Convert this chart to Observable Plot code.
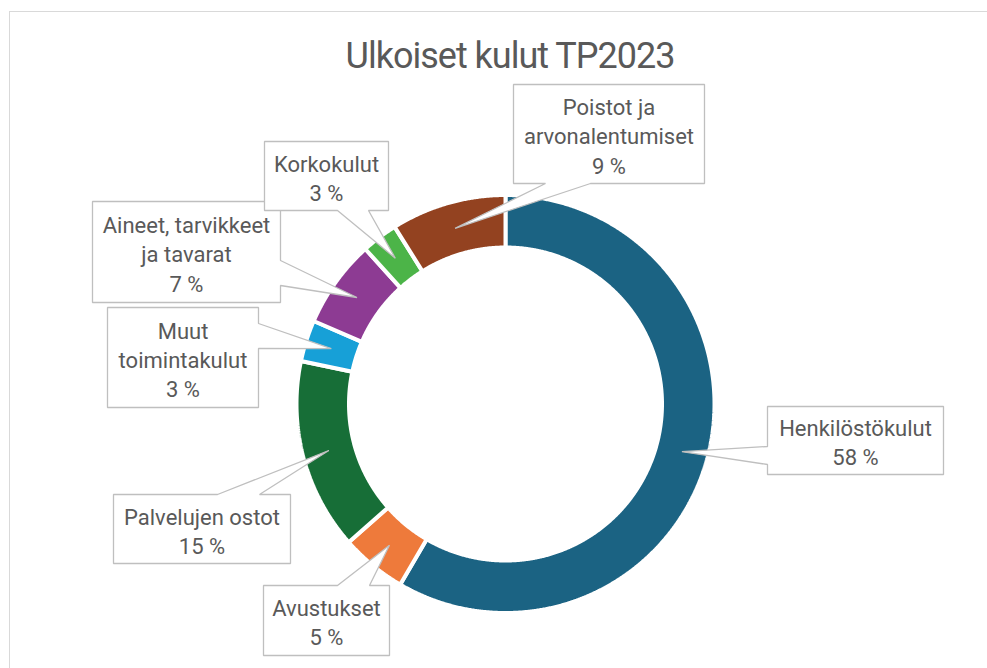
<!DOCTYPE html>
<html>
<head>
<meta charset="utf-8">
<script src="https://cdn.jsdelivr.net/npm/d3@7"></script>
<script src="https://cdn.jsdelivr.net/npm/@observablehq/plot@0.6"></script>
<style>
  html, body { margin: 0; padding: 0; background: #fff; overflow: hidden; }
  #frame { position: absolute; left: 9px; top: 11px; width: 1020px; height: 700px;
           border: 1.5px solid #d9d9d9; box-sizing: border-box; }
  #title { position: absolute; left: 0; width: 1020px; top: 38px; text-align: center;
           font-family: Roboto, sans-serif; font-size: 36px; line-height: 36px;
           letter-spacing: -1px; color: #595959; white-space: nowrap; }
  #chart { position: absolute; left: 0; top: 0; }
</style>
</head>
<body>
<div id="frame"></div>
<div id="title">Ulkoiset kulut TP2023</div>
<div id="chart"></div>
<script>
// ---- data ----
const categories = [
  "Henkilöstökulut",
  "Avustukset",
  "Palvelujen ostot",
  "Muut toimintakulut",
  "Aineet, tarvikkeet ja tavarat",
  "Korkokulut",
  "Poistot ja arvonalentumiset"
];
const values = [58.4, 5.1, 14.8, 3.2, 6.8, 2.8, 8.9];
const labelTexts = [
  "Henkilöstökulut",
  "Avustukset",
  "Palvelujen ostot",
  "Muut\ntoimintakulut",
  "Aineet, tarvikkeet\nja tavarat",
  "Korkokulut",
  "Poistot ja\narvonalentumiset"
];
const colors = ["#1b6383", "#ee7a3b", "#176e37", "#17a0d7", "#8d3b93", "#4cb448", "#934220"];

// ---- layout (positions/sizes) ----
const W = 987, H = 668;
const cx = 505, cy = 403.5, rOuter = 207, rInner = 158.5, gap = 4;
// callout boxes: [x0, y0, x1, y1], side of the pointer, pointer base along that side
const boxes = [
  {box: [767, 406, 943, 474], side: "left",   base: [446, 464]},
  {box: [263, 585, 389, 655], side: "top",    base: [337, 369]},
  {box: [113, 494, 290, 563], side: "top",    base: [217, 259]},
  {box: [107, 307, 258, 407], side: "right",  base: [323, 348]},
  {box: [92, 201, 280, 302],  side: "right",  base: [260, 285]},
  {box: [264, 141, 388, 210], side: "bottom", base: [337, 368]},
  {box: [513, 84, 704, 183],  side: "bottom", base: [545, 590]}
];

// ---- build slices ----
const total = d3.sum(values);
const pt = (a, r) => ({x: cx + r * Math.sin(a), y: cy - r * Math.cos(a)});
let acc = 0;
const slicePts = [];
const tips = [];
categories.forEach((cat, i) => {
  const a0 = acc / total * 2 * Math.PI;
  acc += values[i];
  const a1 = acc / total * 2 * Math.PI;
  const n = Math.max(2, Math.ceil((a1 - a0) / 0.005));
  const ro = rOuter + gap / 2, ri = rInner - gap / 2;
  for (let k = 0; k <= n; k++) slicePts.push({cat, ...pt(a0 + (a1 - a0) * k / n, ro)});
  for (let k = n; k >= 0; k--) slicePts.push({cat, ...pt(a0 + (a1 - a0) * k / n, ri)});
  tips.push(pt((a0 + a1) / 2, (rOuter + rInner) / 2));
});

// ---- build callouts ----
const calloutPts = [];
const labels = [];
categories.forEach((cat, i) => {
  const {box: [x0, y0, x1, y1], side, base: [b0, b1]} = boxes[i];
  const t = tips[i];
  const p = [];
  p.push([x0, y0]);
  if (side === "top") p.push([b0, y0], [t.x, t.y], [b1, y0]);
  p.push([x1, y0]);
  if (side === "right") p.push([x1, b0], [t.x, t.y], [x1, b1]);
  p.push([x1, y1]);
  if (side === "bottom") p.push([b1, y1], [t.x, t.y], [b0, y1]);
  p.push([x0, y1]);
  if (side === "left") p.push([x0, b1], [t.x, t.y], [x0, b0]);
  p.forEach(([x, y]) => calloutPts.push({cat, x, y}));
  labels.push({
    cat,
    x: (x0 + x1) / 2,
    y: (y0 + y1) / 2 + 1,
    text: labelTexts[i] + "\n" + Math.round(values[i]) + " %"
  });
});

const chart = Plot.plot({
  width: W,
  height: H,
  margin: 0,
  x: {domain: [0, W], range: [0, W], axis: null},
  y: {domain: [0, H], range: [0, H], axis: null},
  color: {domain: categories, range: colors},
  style: {background: "transparent", fontFamily: "Roboto, sans-serif"},
  marks: [
    Plot.line(slicePts, {x: "x", y: "y", z: "cat", fill: "cat", stroke: "white",
      strokeWidth: gap, curve: "linear-closed", strokeLinejoin: "miter"}),
    Plot.line(calloutPts, {x: "x", y: "y", z: "cat", fill: "white", stroke: "#bfbfbf",
      strokeWidth: 1.3, curve: "linear-closed", strokeLinejoin: "miter"}),
    Plot.text(labels, {x: "x", y: "y", text: "text", fill: "#595959", fontSize: 22,
      lineHeight: 1.33, lineAnchor: "middle", textAnchor: "middle"})
  ]
});
document.getElementById("chart").appendChild(chart);
</script>
</body>
</html>
